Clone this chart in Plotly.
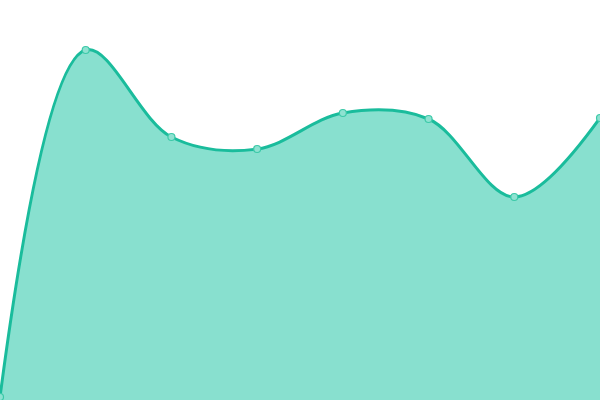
import plotly.graph_objects as go

categories = [0, 1, 2, 3, 4, 5, 6, 7]
values = [3, 350, 263, 251, 287, 281, 203, 282]

fig = go.Figure(go.Scatter(
    x=categories, y=values,
    mode="lines+markers",
    line=dict(shape="spline", smoothing=1, color="#1abc9c", width=3),
    fill="tozeroy",
    fillcolor="#88e0cf",
    marker=dict(size=7, color="#8ee2d1", line=dict(color="#3cc9a8", width=1.2)),
    hoverinfo="skip",
))
fig.update_layout(
    width=600, height=400,
    margin=dict(l=0, r=0, t=0, b=0),
    paper_bgcolor="white", plot_bgcolor="white",
    showlegend=False,
    xaxis=dict(visible=False, range=[0, 7]),
    yaxis=dict(visible=False, range=[0, 400]),
)
fig.write_html(
    "out.html",
    config={"displayModeBar": False},
    post_script="document.body.style.margin='0';document.body.style.overflow='hidden';",
)
